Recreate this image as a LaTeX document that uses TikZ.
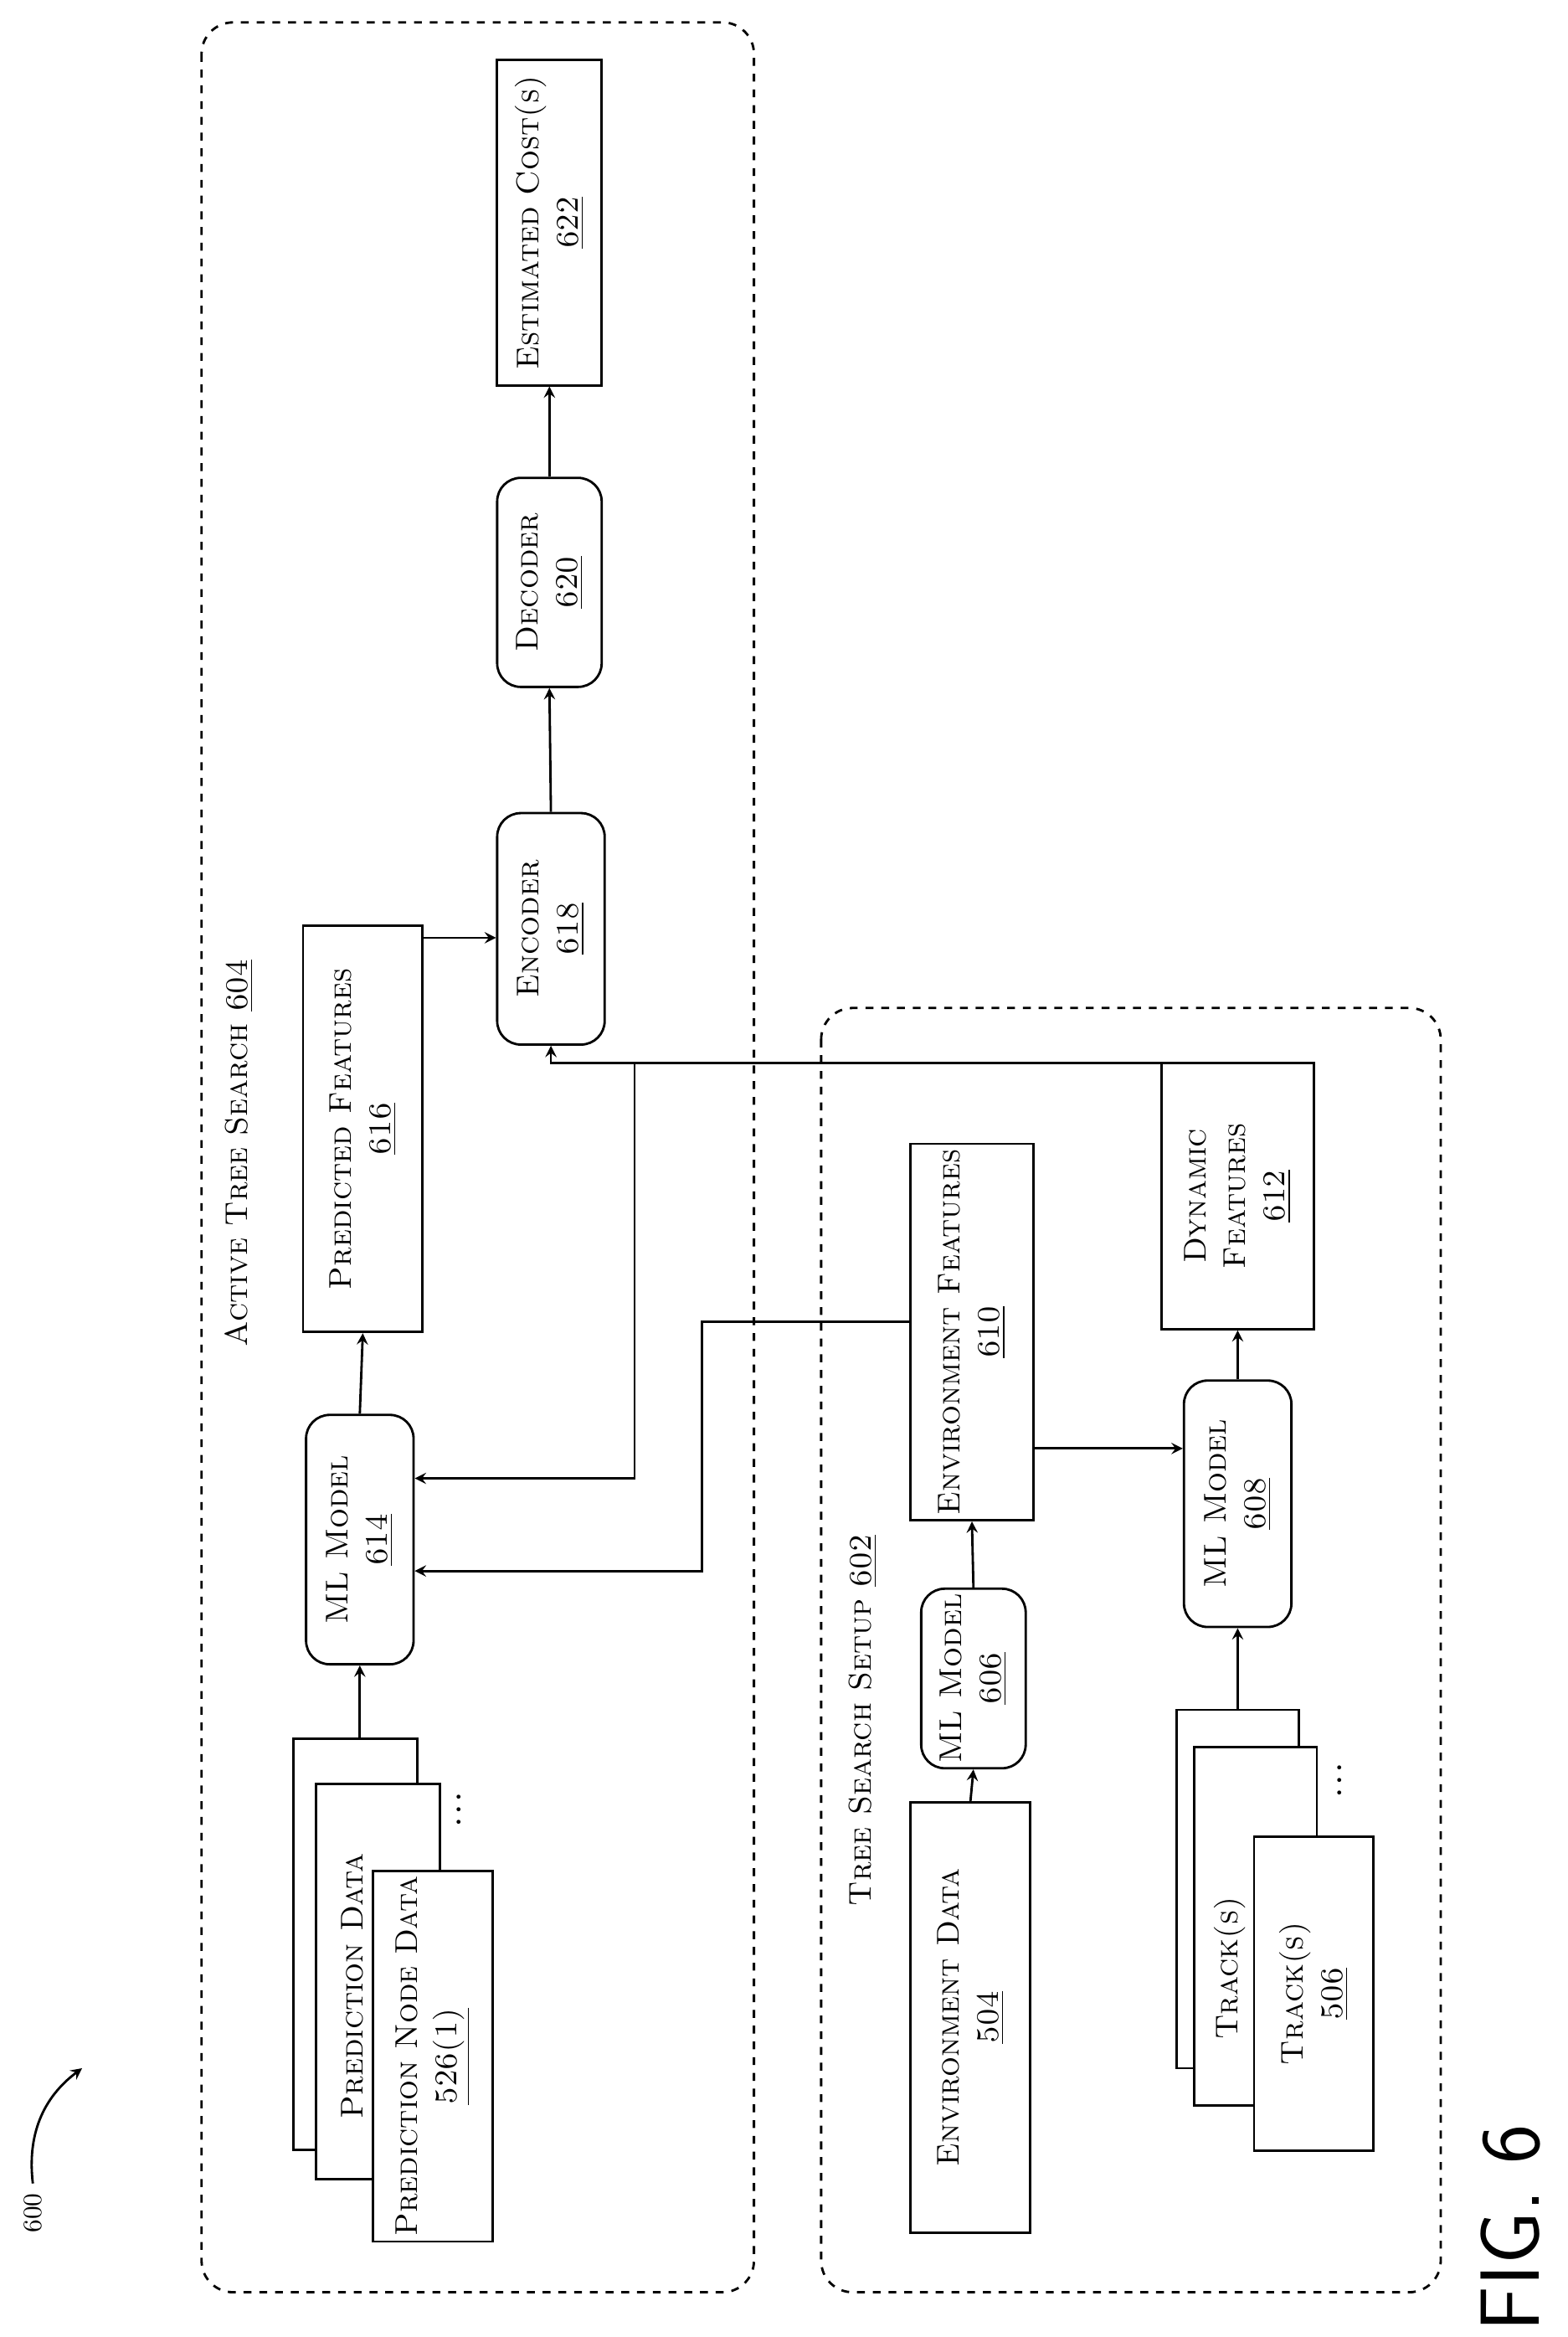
\documentclass[tikz,border=0pt]{standalone}
\usepackage{tikz}
\usetikzlibrary{positioning,arrows}

\begin{document}
\begin{tikzpicture}[x=0.02cm, y=-0.02cm, ->, >=stealth, line width=0.9pt,
    every node/.append style={font=\fontsize{12}{15}\selectfont\scshape},
    box/.style={draw, rotate=90, align=center, fill=white, inner sep=2pt},
    rbox/.style={box, rounded corners=9pt},
    group/.style={draw, dashed, rounded corners=12pt, -}]
    \useasboundingbox (0,0) rectangle (1050,1565);
    % groups
    \draw[group] (135,15) rectangle (505,1535);
    \draw[group] (550,675) rectangle (965,1535);
    \node[rotate=90] (ATS) at (160,772) {Active Tree Search \underline{604}};
    \node[rotate=90] (TSS) at (578,1152) {Tree Search Setup \underline{602}};
    % active tree search
    \node[box, minimum width=218*0.02cm, minimum height=70*0.02cm] (Cost) at (368,149) {Estimated Cost(s)\\\underline{622}};
    \node[rbox, minimum width=140*0.02cm, minimum height=70*0.02cm] (Decoder) at (368,390) {Decoder\\\underline{620}};
    \node[rbox, minimum width=155*0.02cm, minimum height=72*0.02cm] (Encoder) at (369,622) {Encoder\\\underline{618}};
    \node[box, minimum width=272*0.02cm, minimum height=80*0.02cm] (PredFeat) at (243,756) {Predicted Features\\\underline{616}};
    \node[rbox, minimum width=167*0.02cm, minimum height=72*0.02cm] (MLa) at (241,1031) {ML Model\\\underline{614}};
    \node[box, minimum width=275*0.02cm, minimum height=83*0.02cm] (PredBack) at (238,1302) {};
    \node[box, minimum width=265*0.02cm, minimum height=83*0.02cm] (PredData) at (253,1327) {};
    \node[rotate=90] (PredDataTxt) at (236,1330) {Prediction Data};
    \node[box, minimum width=225*0.02cm, minimum height=80*0.02cm] (PredNode) at (290,1377) {Prediction Node Data\\\underline{526(1)}};
    \node[rotate=90, font=\Large] (dotsA) at (308,1212) {$\cdot\!\cdot\!\cdot$};
    % tree search setup
    \node[box, minimum width=288*0.02cm, minimum height=80*0.02cm] (EnvData) at (650,1351) {Environment Data\\\underline{504}};
    \node[rbox, minimum width=112*0.02cm, minimum height=70*0.02cm] (MLb) at (652,1124) {ML Model\\\underline{606}};
    \node[box, minimum width=245*0.02cm, minimum height=82*0.02cm] (EnvFeat) at (651,892) {Environment Features\\\underline{610}};
    \node[rbox, minimum width=165*0.02cm, minimum height=72*0.02cm] (MLc) at (829,1007) {ML Model\\\underline{608}};
    \node[box, minimum width=178*0.02cm, minimum height=102*0.02cm] (DynFeat) at (829,801) {Dynamic\\Features\\\underline{612}};
    \node[box, minimum width=240*0.02cm, minimum height=82*0.02cm] (TrackBack) at (829,1265) {};
    \node[box, minimum width=240*0.02cm, minimum height=82*0.02cm] (Tracks) at (841,1290) {};
    \node[rotate=90] (TracksTxt) at (824,1318) {Track(s)};
    \node[box, minimum width=210*0.02cm, minimum height=80*0.02cm] (TrackFront) at (880,1335) {Track(s)\\\underline{506}};
    \node[rotate=90, font=\Large] (dotsB) at (898,1192) {$\cdot\!\cdot\!\cdot$};
    % labels
    \node[rotate=90, font=\normalsize] (Fig) at (22,1482) {600};
    \coordinate (FigTip) at (55,1385);
    \draw (Fig.east) to[bend left=30] (FigTip);
    \node[rotate=90, font=\fontsize{32}{36}\selectfont\sffamily] (FigSix) at (1012,1492) {FIG. 6};
    % connectors
    \draw (PredBack.east -| MLa) -- (MLa.west);
    \draw (MLa.east) -- (PredFeat.west);
    \draw (PredFeat.south |- Encoder.north) ++(0,6) coordinate (pf) -- (pf -| Encoder.north);
    \draw (Encoder.east) -- (Decoder.west);
    \draw (Decoder.east) -- (Cost.west);
    \draw (EnvData.east) -- (MLb.west);
    \draw (MLb.east) -- (EnvFeat.west);
    \draw (EnvFeat.south |- MLc) ++(0,-37) coordinate (ef) -- (ef -| MLc.north);
    \draw (TrackBack.east) -- (MLc.west);
    \draw (MLc.east) -- (DynFeat.west);
    \coordinate (dynturn) at (425,712);
    \draw (DynFeat.north |- dynturn) -- (dynturn -| Encoder) -- (Encoder.west);
    \draw (dynturn) -- (425,990) -- (MLa.south |- 0,990);
    \draw (EnvFeat.north |- 0,885) -- (470,885) -- (470,1052) -- (MLa.south |- 0,1052);
\end{tikzpicture}
\end{document}
